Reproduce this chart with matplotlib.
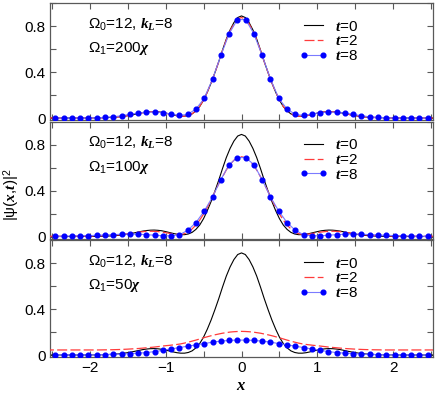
import matplotlib
matplotlib.use("Agg")
import matplotlib.pyplot as plt
from matplotlib.ticker import FixedLocator, FixedFormatter
import numpy as np

plt.rcParams.update({"font.family": "Liberation Sans", "font.size": 11,
                     "mathtext.fontset": "custom",
                     "mathtext.rm": "Liberation Sans",
                     "mathtext.it": "Liberation Serif:italic:bold",
                     "mathtext.bf": "Liberation Serif:bold"})

# x >= 0 half of the profiles (all curves are symmetric in x)
x_line = [0, .05, .1, .15, .2, .25, .3, .35, .4, .45, .5, .55, .6, .65, .7, .75, .8, .85, .9, .95,
          1.0, 1.05, 1.1, 1.15, 1.2, 1.25, 1.3, 1.35, 1.4, 1.45, 1.5, 1.6, 1.7, 1.8, 1.9, 2.0, 2.2, 2.4, 2.6]

# t=0, same initial state in every panel
psi_t0 = [0.890, 0.876, 0.832, 0.768, 0.688, 0.592, 0.490, 0.395, 0.305, 0.225, 0.155, 0.100, 0.062, 0.036,
          0.022, 0.016, 0.016, 0.020, 0.027, 0.035, 0.043, 0.050, 0.054, 0.056, 0.055, 0.052, 0.047, 0.040,
          0.033, 0.026, 0.020, 0.011, 0.006, 0.003, 0.0015, 0.001, 0.0, 0.0, 0.0]

# t=2 for Omega1 = 200, 100, 50 chi
psi_t2_200 = [0.876, 0.863, 0.820, 0.758, 0.680, 0.588, 0.489, 0.395, 0.306, 0.226, 0.157, 0.102, 0.063, 0.037,
              0.022, 0.016, 0.016, 0.020, 0.027, 0.035, 0.043, 0.049, 0.053, 0.055, 0.054, 0.051, 0.046, 0.040,
              0.033, 0.026, 0.020, 0.011, 0.006, 0.003, 0.0015, 0.001, 0.0, 0.0, 0.0]
psi_t2_100 = [0.695, 0.688, 0.665, 0.628, 0.580, 0.520, 0.458, 0.390, 0.320, 0.255, 0.195, 0.143, 0.100, 0.066,
              0.041, 0.025, 0.018, 0.018, 0.022, 0.028, 0.034, 0.039, 0.043, 0.045, 0.046, 0.045, 0.042, 0.038,
              0.033, 0.028, 0.024, 0.016, 0.011, 0.008, 0.006, 0.004, 0.003, 0.002, 0.002]
psi_t2_50 = [0.206, 0.205, 0.203, 0.200, 0.195, 0.190, 0.183, 0.176, 0.168, 0.159, 0.150, 0.140, 0.130, 0.121,
             0.112, 0.104, 0.097, 0.092, 0.088, 0.084, 0.081, 0.077, 0.073, 0.069, 0.066, 0.063, 0.060, 0.057,
             0.055, 0.053, 0.051, 0.048, 0.046, 0.045, 0.044, 0.044, 0.044, 0.044, 0.044]

# t=8 sample points
x_dot = [0.054, 0.163, 0.272, 0.381, 0.490, 0.599, 0.708, 0.817, 0.926, 1.034, 1.143, 1.252,
         1.361, 1.470, 1.579, 1.688, 1.797, 1.906, 2.014, 2.123, 2.232, 2.341, 2.450]
psi_t8_200 = [0.858, 0.735, 0.545, 0.340, 0.172, 0.078, 0.032, 0.022, 0.034, 0.047, 0.052, 0.050,
              0.043, 0.032, 0.020, 0.010, 0.005, 0.002, 0.001, 0.0, 0.0, 0.0, 0.0]
psi_t8_100 = [0.688, 0.627, 0.495, 0.345, 0.222, 0.122, 0.054, 0.015, 0.006, 0.006, 0.011, 0.016,
              0.020, 0.021, 0.020, 0.016, 0.013, 0.010, 0.008, 0.006, 0.004, 0.003, 0.002]
psi_t8_50 = [0.130, 0.127, 0.121, 0.112, 0.100, 0.088, 0.077, 0.065, 0.053, 0.041, 0.030, 0.021,
             0.016, 0.012, 0.008, 0.005, 0.003, 0.002, 0.001, 0.001, 0.0, 0.0, 0.0]

omega1 = ["200", "100", "50"]
t2_sets = [psi_t2_200, psi_t2_100, psi_t2_50]
t8_sets = [psi_t8_200, psi_t8_100, psi_t8_50]


def mirror(x, y, has_zero):
	x = np.asarray(x); y = np.asarray(y)
	k = 1 if has_zero else 0
	return np.concatenate([-x[k:][::-1], x]), np.concatenate([y[k:][::-1], y])


fig = plt.figure(figsize=(4.36, 3.98), dpi=100)
left, right = 50/436, 433/436
top_px, h_px, gap_px = 3.3, 117.0, 1.5

for i in range(3):
	y0 = top_px + i*(h_px + gap_px)
	ax = fig.add_axes([left, 1 - (y0 + h_px)/398, right - left, h_px/398])

	xa, ya = mirror(x_line, psi_t0, True)
	ax.plot(xa, ya, color='k', lw=0.8, label=r'$\it{t}$=0', zorder=2)
	xb, yb = mirror(x_line, t2_sets[i], True)
	ax.plot(xb, yb, color='#ff3b3b', lw=0.9, dashes=(8, 2.6), label=r'$\it{t}$=2', zorder=3)
	xc, yc = mirror(x_dot, t8_sets[i], False)
	ax.plot(xc, yc, color='#7b7bff', lw=0.8, marker='o', ms=3.4, mfc='#0000ff', mec='#0000ff',
	        label=r'$\it{t}$=8', zorder=4)

	ax.set_xlim(-2.52, 2.52)
	ax.set_ylim(-0.02, 1.0)
	ax.xaxis.set_major_locator(FixedLocator([-2, -1, 0, 1, 2]))
	ax.xaxis.set_minor_locator(FixedLocator([-2.5, -1.5, -0.5, 0.5, 1.5, 2.5]))
	ax.yaxis.set_major_locator(FixedLocator([0, 0.4, 0.8]))
	ax.yaxis.set_major_formatter(FixedFormatter(['0', '0.4', '0.8']))
	ax.yaxis.set_minor_locator(FixedLocator([0.2, 0.6, 1.0]))
	ax.tick_params(which='both', direction='in', top=True, right=True, length=4, width=0.8,
	               color='0.35', labelsize=11, pad=3)
	for s in ax.spines.values():
		s.set_color('0.35')
		s.set_linewidth(0.9)
	if i < 2:
		ax.tick_params(labelbottom=False)

	ax.text(0.099, 0.815, r'$\Omega_0$=12, $\it{k_L}$=8', transform=ax.transAxes, va='center', fontsize=11)
	ax.text(0.099, 0.61, r'$\Omega_1$=' + omega1[i] + r'$\chi$', transform=ax.transAxes, va='center', fontsize=11)
	ax.legend(loc='upper left', bbox_to_anchor=(0.652, 0.86), frameon=False, borderpad=0, borderaxespad=0,
	          handlelength=1.8, handletextpad=0.5, labelspacing=0.05, numpoints=2, fontsize=11)

fig.text(12/436, 1 - 195/398, r'|ψ($\it{x}$,$\it{t}$)|$^2$', rotation=90, ha='center', va='center', fontsize=11)
fig.text(241/436, 1 - 385/398, r'$\it{x}$', ha='center', va='center', fontsize=12)

plt.savefig('out.png', dpi=100)
